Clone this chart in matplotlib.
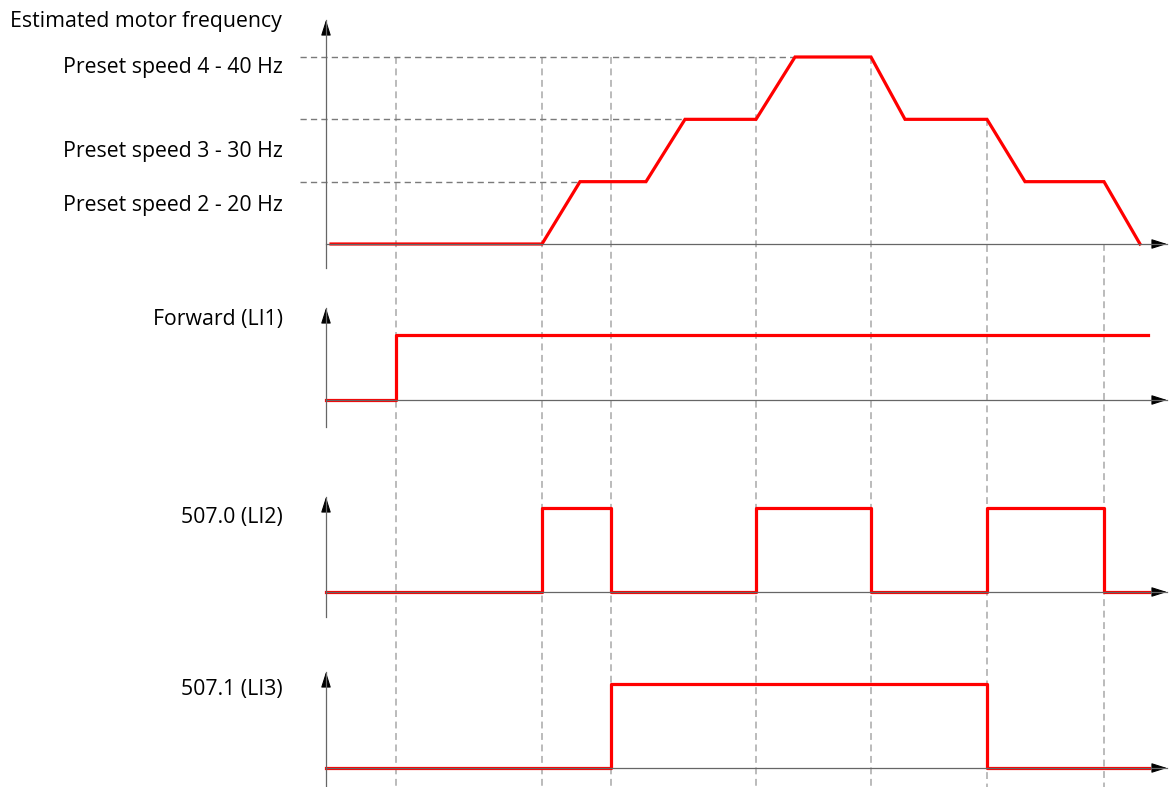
# -*- coding:utf-8 -*-
### Timing diagram: preset speeds selected by logic inputs.
### output: out.png

import numpy as np
import matplotlib.pyplot as plt

plt.rcParams['font.family'] = ['Open Sans', 'DejaVu Sans']

### ------------------------------
### Data (time in arbitrary units, 0 = start of diagram)
### frequency is drawn schematically: level 0 = stop, 1 = 20 Hz, 2 = 30 Hz, 3 = 40 Hz
freq_t = [0.5, 21.6, 25.4, 32.0, 35.9, 43.0, 46.9, 54.5, 57.9, 66.1, 69.9, 77.8, 81.4]
freq_level = [0, 0, 1, 1, 2, 2, 3, 3, 2, 2, 1, 1, 0]

preset_level = [3, 2, 1]
preset_labels = ['Preset speed 4 - 40 Hz', 'Preset speed 3 - 30 Hz', 'Preset speed 2 - 20 Hz']
preset_reach_t = [46.9, 35.9, 25.4]

event_t = [7.0, 21.6, 28.5, 43.0, 54.5, 66.1, 77.8]
event_top_level = [3, 3, 3, 3, 3, 2, 0]

fwd_t = [0, 7.0, 82.2]
fwd_v = [0, 1, 1]
li2_t = [0, 21.6, 28.5, 43.0, 54.5, 66.1, 77.8, 82.3]
li2_v = [0, 1, 0, 1, 0, 1, 0, 0]
li3_t = [0, 28.5, 66.1, 82.3]
li3_v = [0, 1, 0, 0]

### ------------------------------
W, H = 1172, 787
PX = 10.0          # pixels per time unit
X0 = 326           # pixel of time origin
XLIM = (-X0 / PX, (W - X0) / PX)

RED = '#ff0000'
AXC = '#666666'
ARROW_END = 84.1
LABEL_X = -4.3
FS = 15.3

fig = plt.figure(figsize=(W / 100, H / 100), dpi=100)


def panel(top_px, bot_px, base_px, ppu):
    ax = fig.add_axes([0, 1 - bot_px / H, 1, (bot_px - top_px) / H])
    ax.set_xlim(XLIM)
    ax.set_ylim((base_px - bot_px) / ppu, (base_px - top_px) / ppu)
    ax.axis('off')
    ax.patch.set_alpha(0)
    return ax


def arrow(ax, tail, tip):
    ax.annotate('', xy=tip, xytext=tail,
                arrowprops=dict(arrowstyle='-|>,head_length=0.95,head_width=0.3',
                                color='black', lw=0.8, shrinkA=0, shrinkB=0,
                                mutation_scale=10), annotation_clip=False)


def axes_lines(ax, ybot, ytip, ppu):
    ax.plot([0, 0], [ybot, ytip], color=AXC, lw=0.9, clip_on=False, zorder=4)
    arrow(ax, (0, ytip - 14 / ppu), (0, ytip))
    ax.plot([0, ARROW_END], [0, 0], color=AXC, lw=0.9, clip_on=False, zorder=4)
    arrow(ax, (ARROW_END - 1.4, 0), (ARROW_END, 0))


### frequency panel
ppu_f = (244 - 57) / 3.0
axf = panel(0, 280, 244, ppu_f)
ybottom = (244 - H) / ppu_f
for t, top in zip(event_t, event_top_level):
    axf.plot([t, t], [top, ybottom], color='#a8a8a8', lw=1.1,
             dashes=(4.5, 3), clip_on=False, zorder=1)
for lv, t in zip(preset_level, preset_reach_t):
    axf.plot([-2.6, t], [lv, lv], color='#7a7a7a', lw=1.0,
             dashes=(4.5, 3), clip_on=False, zorder=1)
axf.plot(freq_t, freq_level, color=RED, lw=2.3, solid_joinstyle='miter', zorder=3)
axes_lines(axf, (244 - 268) / ppu_f, (244 - 20) / ppu_f, ppu_f)

axf.text(-31.6, (244 - 22) / ppu_f, 'Estimated motor frequency', fontsize=FS,
         ha='left', va='center')
label_px = [67, 151, 206]
for lab, py in zip(preset_labels, label_px):
    axf.text(LABEL_X, (244 - py) / ppu_f, lab, fontsize=FS, ha='right', va='center')

### logic inputs
signals = [
    ('Forward (LI1)', fwd_t, fwd_v, (280, 440, 400, 65.0), 427, 308, 319),
    ('507.0 (LI2)', li2_t, li2_v, (440, 630, 592, 84.0), 617, 497, 518),
    ('507.1 (LI3)', li3_t, li3_v, (630, 787, 768, 84.0), 800, 672, 689),
]
for name, ts, vs, box, bot_px, tip_px, lab_px in signals:
    top_px, b_px, base_px, ppu = box
    ax = panel(top_px, b_px, base_px, ppu)
    ax.step(ts, vs, where='post', color=RED, lw=2.3, zorder=3)
    axes_lines(ax, (base_px - bot_px) / ppu, (base_px - tip_px) / ppu, ppu)
    ax.text(LABEL_X, (base_px - lab_px) / ppu, name, fontsize=FS,
            ha='right', va='center')

plt.savefig('out.png', dpi=100)
